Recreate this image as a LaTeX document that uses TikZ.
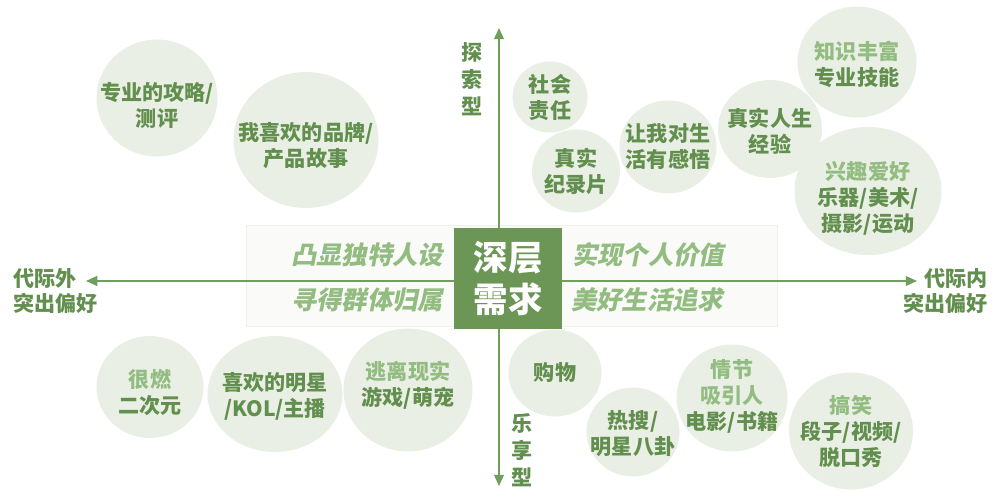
\documentclass[tikz,border=0pt]{standalone}
\usepackage{fontspec}
\setmainfont{Noto Sans CJK SC}
\newfontfamily\slantcjk[FakeSlant=0.2]{Noto Sans CJK SC}
\usepackage{xcolor}
\usetikzlibrary{arrows.meta}
\definecolor{coregreen}{RGB}{107,150,86}
\definecolor{axisgreen}{RGB}{112,158,92}
\definecolor{textgreen}{RGB}{98,143,78}
\definecolor{softgreen}{RGB}{146,188,128}
\definecolor{bubblefill}{RGB}{233,239,229}
\definecolor{bandfill}{RGB}{250,251,249}
\definecolor{bandline}{RGB}{238,242,236}
\newcommand\softline[1]{\textcolor{softgreen}{#1}}

\begin{document}
\begin{tikzpicture}[x=0.025cm,y=-0.025cm,>={Triangle[length=8pt,width=7pt]},
  bubbletext/.style={text=textgreen,align=center,inner sep=0pt,
    font=\bfseries\fontsize{15}{18.5}\selectfont},
  axislabel/.style={text=textgreen,inner sep=0pt,
    font=\bfseries\fontsize{15}{17.5}\selectfont},
  needlabel/.style={text=softgreen,inner sep=0pt,
    font=\slantcjk\bfseries\fontsize{18}{20}\selectfont}]
\useasboundingbox (0,0) rectangle (1006,497);

% light band behind the four needs
\filldraw[fill=bandfill,draw=bandline,line width=0.4pt] (246,225) rectangle (777,326);

% axes
\coordinate (top) at (499,28);
\coordinate (bottom) at (499,486);
\coordinate (left) at (86,281);
\coordinate (right) at (917,281);
\draw[axisgreen,line width=1.2pt,<->] (bottom)--(top);
\draw[axisgreen,line width=1.2pt,<->] (left)--(right);

% bubbles
\fill[bubblefill] (157,98) ellipse[x radius=60.5,y radius=58.5];
\fill[bubblefill] (306,140) ellipse[x radius=72.5,y radius=68];
\fill[bubblefill] (550,97) ellipse[x radius=37.5,y radius=35.5];
\fill[bubblefill] (576,171) ellipse[x radius=44,y radius=41.5];
\fill[bubblefill] (668,147) ellipse[x radius=48.5,y radius=46.5];
\fill[bubblefill] (770,129) ellipse[x radius=52,y radius=49];
\fill[bubblefill] (857,62) ellipse[x radius=59.5,y radius=55.5];
\fill[bubblefill] (868,191) ellipse[x radius=73.5,y radius=64];
\fill[bubblefill] (150,387) ellipse[x radius=53.5,y radius=51];
\fill[bubblefill] (275,394) ellipse[x radius=67.5,y radius=58];
\fill[bubblefill] (408,390) ellipse[x radius=64.5,y radius=61.5];
\fill[bubblefill] (555,373) ellipse[x radius=46.5,y radius=43.5];
\fill[bubblefill] (633,432) ellipse[x radius=46.5,y radius=44.5];
\fill[bubblefill] (732,398) ellipse[x radius=55.5,y radius=53.5];
\fill[bubblefill] (851,431) ellipse[x radius=62,y radius=58.5];

\node[bubbletext] (guide) at (157,105) {专业的攻略/\\测评};
\node[bubbletext] (brand) at (306,146) {我喜欢的品牌/\\产品故事};
\node[bubbletext] (duty) at (550,97) {社会\\责任};
\node[bubbletext] (docu) at (576,171) {真实\\纪录片};
\node[bubbletext] (insight) at (668,147) {让我对生\\活有感悟};
\node[bubbletext] (life) at (770,131) {真实人生\\经验};
\node[bubbletext] (skill) at (857,64) {\softline{知识丰富}\\专业技能};
\node[bubbletext] (hobby) at (868,198) {\softline{兴趣爱好}\\乐器/美术/\\摄影/运动};
\node[bubbletext] (acg) at (150,393) {\softline{很燃}\\二次元};
\node[bubbletext] (idol) at (275,396) {喜欢的明星\\/KOL/主播};
\node[bubbletext] (escape) at (408,385) {\softline{逃离现实}\\游戏/萌宠};
\node[bubbletext] (shop) at (555,372) {购物};
\node[bubbletext] (gossip) at (633,434) {热搜/\\明星八卦};
\node[bubbletext] (story) at (732,396) {\softline{情节}\\\softline{吸引人}\\电影/书籍};
\node[bubbletext] (fun) at (851,431) {\softline{搞笑}\\段子/视频/\\脱口秀};

% four needs round the core
\node[needlabel] (persona) at (367,255) {凸显独特人设};
\node[needlabel] (belong) at (367,300) {寻得群体归属};
\node[needlabel] (worth) at (648,255) {实现个人价值};
\node[needlabel] (pursuit) at (647,300) {美好生活追求};

\node[fill=coregreen,text=white,minimum width=2.7cm,minimum height=2.53cm,
  align=center,font=\bfseries\fontsize{24.5}{30}\selectfont] (core) at (508,278.5) {深层\\需求};

% axis labels
\node[axislabel,align=center,font=\bfseries\fontsize{15}{19}\selectfont] (explore) at (472,79) {探\\索\\型};
\node[axislabel,align=center,font=\bfseries\fontsize{15}{19}\selectfont] (enjoy) at (522,450) {乐\\享\\型};
\node[axislabel,align=left,anchor=west] (outside) at (13,291) {代际外\\突出偏好};
\node[axislabel,align=right,anchor=east] (inside) at (988,291) {代际内\\突出偏好};
\end{tikzpicture}
\end{document}
